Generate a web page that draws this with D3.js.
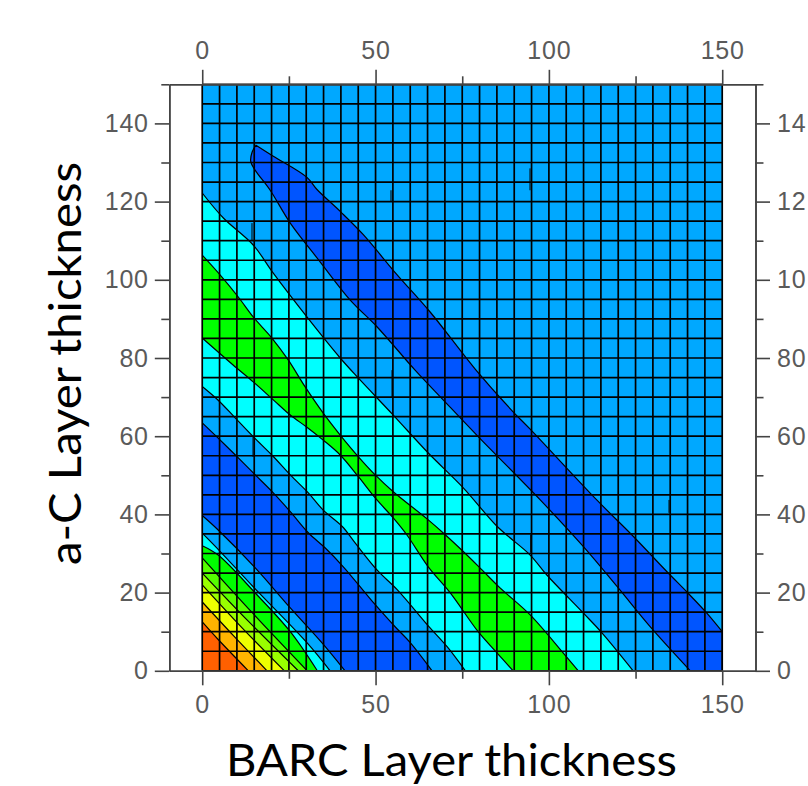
<!DOCTYPE html>
<html>
<head>
<meta charset="utf-8">
<script src="https://cdn.jsdelivr.net/npm/d3@7"></script>
<style>
  html, body { margin: 0; padding: 0; background: #fff; overflow: hidden; }
  .tick-label { font-family: "Liberation Sans", Arial, sans-serif; font-size: 25px; letter-spacing: 0.8px; fill: #5a5a5a; }
  .axis-title { font-family: Lato, "Open Sans", sans-serif; font-size: 44px; fill: #000; }
</style>
</head>
<body>
<div id="graph"></div>
<script>
// tick values, both axes are labelled on both sides
const xMajor = [0, 50, 100, 150];
const xMinor = [25, 75, 125];
const yMajor = [0, 20, 40, 60, 80, 100, 120, 140];
const yMinor = [10, 30, 50, 70, 90, 110, 130, 150];
// the right hand labels run off the page in the source, only this much shows
const yRightLabels = ["0", "20", "40", "60", "80", "10", "12", "14"];
const gridX = d3.range(0, 151, 5);
const gridY = d3.range(0, 151, 5);

// contour boundaries, [BARC, a-C] thickness
const cyanTop = [[0,122.2],[6.1,115.8],[14.7,108.9],[20.5,101.7],[30.2,90.5],[39.8,80],[45,74.9],[55.1,65.4],[65.2,55.7],[75.3,46.8],[85.1,36.9],[94.6,29.6],[99.4,24.5],[109.9,14.8],[115.3,9.7],[124.3,0]];
const greenTop = [[0,106.3],[5.2,101.2],[10.4,95.6],[14.7,90.5],[20.1,85.1],[24.8,79.5],[29.7,72.6],[34.9,65.9],[39.8,60.3],[45,54.8],[49.9,50.1],[55.1,45.8],[65.2,38.6],[70.1,34.8],[75.3,30.5],[80.7,25.8],[85.9,21.2],[94.6,14.3],[104.1,4.6],[108.5,0]];
const greenBottom = [[0,85.1],[8.9,78.2],[14.7,73.9],[20.5,69.3],[25.4,65.4],[30.2,62.3],[34.9,59],[39.8,55.2],[45,49.7],[49.9,44.2],[55.1,39.1],[59,34.8],[65.2,26.6],[71.5,20],[79.6,10],[85,4.6],[89.7,0]];
const cyanBottom = [[0,72.7],[4.6,69.2],[9.5,64.7],[14.7,59.9],[20.5,54.8],[25.4,50.1],[30.6,45.5],[34.9,41.1],[40.4,36.9],[44.1,32.7],[50.4,25.8],[56.3,20.7],[65.2,11.5],[70.7,6.1],[75.9,0]];
const blueTop = [[0,63.4],[4.6,59.5],[10,54.8],[15.3,50.1],[20.5,45.5],[25.4,40.7],[30.6,35.3],[35.5,31.4],[40.7,26.6],[49.9,16.9],[55.7,11.2],[60,7.2],[66.3,0]];
const blueBottom = [[0,39.7],[4.6,36],[15.3,26.3],[25.4,16.1],[34.5,7.2],[41.2,0]];
const cornerCyan = [[0,35.2],[5.2,30.5],[14.7,21.5],[30.2,7.2],[36.9,0]];
const cornerGreen = [[0,32],[4.6,29.6],[15.3,19.9],[25.4,10],[33.2,0]];
const cornerLime = [[0,28.9],[14.7,14.6],[30.3,0]];
const cornerChartreuse = [[0,25],[13.5,12.5],[27.7,0]];
const cornerYellow = [[0,22],[11.5,11],[23.7,0]];
const cornerAmber = [[0,17.6],[9,9],[18.7,0]];
const cornerRed = [[0,12.5],[4.6,8],[13.3,0]];

// the closed dark blue island running to the right edge
const islandTop = [[15.5,134.4],[20.5,131.6],[30.2,126.2],[33.1,123.1],[39.8,117.5],[46.4,111.6],[56.1,101.4],[65.8,91.7],[78.8,77.1],[89.4,66.5],[94.6,61.8],[113.8,43.7],[123.9,34.8],[134,25.4],[140.1,19.9],[145.5,14.8],[150,10]];
const islandBottom = [[140.8,0],[129.2,11.3],[120,21.2],[109.9,31.8],[97.5,43.7],[79.6,59.9],[69.5,69.3],[61.4,76.9],[50.4,88],[42.7,94.8],[34,104.6],[25.4,114.5],[19.6,122.9],[15.3,128],[14,130.2],[14.4,132.7],[15.5,134.4]];

// tiny contour fragments next to the grid lines, [x, y1, y2]
const stubs = [[14.7,114.5,110.1],[54.8,122.9,119.9],[95.1,34.8,30.2],[135,43.7,40.4],[55.1,76.9,70],[15,59.8,54.7],[94.9,128.5,122.9]];

const lightBlue = "#00a8ff", darkBlue = "#0055ff", cyan = "#00ffff", green = "#00ff00";

// painted back to front, everything under a curve takes its colour
const bandCurves = [cyanTop, greenTop, greenBottom, cyanBottom, blueTop, blueBottom, cornerCyan, cornerGreen, cornerLime, cornerChartreuse, cornerYellow, cornerAmber, cornerRed];
const bandColors = [cyan, green, cyan, lightBlue, darkBlue, lightBlue, cyan, green, "#55ff00", "#99ff00", "#eeff00", "#ffb400", "#ff6000"];

const width = 808, height = 786;

const x = d3.scaleLinear().domain([-9.5, 159.6]).range([169.3, 755.5]);
const y = d3.scaleLinear().domain([0, 150]).range([670.8, 84.3]);

const svg = d3.select("#graph").append("svg")
  .attr("width", width)
  .attr("height", height)
  .style("display", "block");

// field background
svg.append("rect")
  .attr("x", x(0)).attr("y", y(150))
  .attr("width", x(150) - x(0)).attr("height", y(0) - y(150))
  .attr("fill", lightBlue);

const line = d3.line().x(d => x(d[0])).y(d => y(d[1])).curve(d3.curveCatmullRom);
const area = d3.area().x(d => x(d[0])).y0(y(0)).y1(d => y(d[1])).curve(d3.curveCatmullRom);

// top edge, down the right side, back along the lower edge
svg.append("path")
  .attr("d", line(islandTop) + `L${x(150)},${y(0)}L` + line(islandBottom).slice(1) + "Z")
  .attr("fill", darkBlue)
  .attr("stroke", "#000")
  .attr("stroke-width", 1.2);

bandCurves.forEach((curve, i) => {
  svg.append("path").attr("d", area(curve)).attr("fill", bandColors[i]);
  svg.append("path").attr("d", line(curve)).attr("fill", "none").attr("stroke", "#000").attr("stroke-width", 1.2);
});

svg.append("g").selectAll("line")
  .data(stubs)
  .enter()
  .append("line")
  .attr("x1", d => x(d[0]) - 1.2).attr("x2", d => x(d[0]) - 1.2)
  .attr("y1", d => y(d[1])).attr("y2", d => y(d[2]))
  .attr("stroke", "#000");

// 5 unit mesh
const mesh = svg.append("g").attr("stroke", "#000").attr("stroke-width", 1.7);
mesh.selectAll(".gx").data(gridX).enter().append("line")
  .attr("x1", d => x(d)).attr("x2", d => x(d))
  .attr("y1", y(0)).attr("y2", y(150));
mesh.selectAll(".gy").data(gridY).enter().append("line")
  .attr("x1", x(0)).attr("x2", x(150))
  .attr("y1", d => y(d)).attr("y2", d => y(d));

// frame, major ticks carry the labels and a second pass adds the short ones
function drawAxis(make, scale, major, minor, pos, pad, labels) {
  const format = labels ? (d, i) => labels[i] : d3.format("d");
  const g = svg.append("g").attr("transform", pos);
  g.call(make(scale).tickValues(major).tickSize(14.5).tickSizeOuter(0).tickPadding(pad).tickFormat(format));
  g.call(s => s.selectAll("text").attr("class", "tick-label").attr("font-size", null).attr("font-family", null));
  const g2 = svg.append("g").attr("transform", pos);
  g2.call(make(scale).tickValues(minor).tickSize(8).tickSizeOuter(0).tickFormat(""));
  svg.selectAll("g path.domain, g .tick line").attr("stroke", "#444").attr("stroke-width", 1.6);
}

drawAxis(d3.axisBottom, x, xMajor, xMinor, `translate(0,${y(0)})`, 10);
drawAxis(d3.axisTop, x, xMajor, xMinor, `translate(0,${y(150)})`, 11);
drawAxis(d3.axisLeft, y, yMajor, yMinor, `translate(${x(-9.5)},0)`, 6);
drawAxis(d3.axisRight, y, yMajor, yMinor, `translate(${x(159.6)},0)`, 7, yRightLabels);

// titles
svg.append("text")
  .text("BARC Layer thickness")
  .attr("class", "axis-title")
  .attr("x", 226).attr("y", 776)
  .attr("textLength", 451).attr("lengthAdjust", "spacingAndGlyphs");

svg.append("text")
  .text("a-C Layer thickness")
  .attr("class", "axis-title")
  .attr("transform", "translate(81,565) rotate(-90)")
  .attr("textLength", 403).attr("lengthAdjust", "spacingAndGlyphs");
</script>
</body>
</html>
